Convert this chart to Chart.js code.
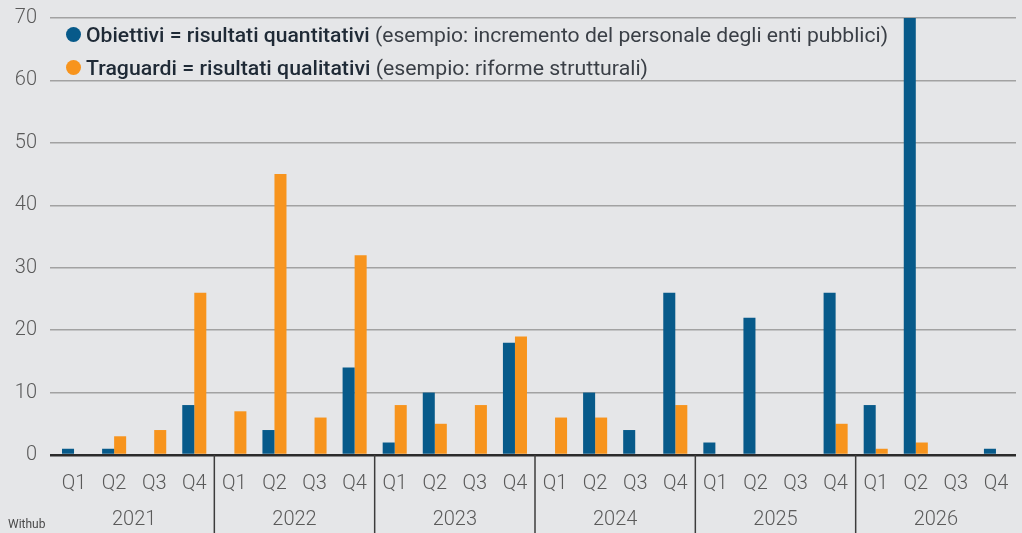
<!DOCTYPE html>
<html>
<head>
<meta charset="utf-8">
<script src="https://cdn.jsdelivr.net/npm/chart.js@4.4.1/dist/chart.umd.min.js"></script>
<style>
  html, body { margin: 0; padding: 0; background: #e5e6e8; }
  #wrap { position: relative; width: 1022px; height: 533px; overflow: hidden; background: #e5e6e8; }
  #chart { position: absolute; left: 0; top: 0; }
  #legend { position: absolute; left: 66px; top: 18px; font-family: 'Roboto', sans-serif; font-size: 21px; color: #2a3038; white-space: nowrap; }
  .row { display: flex; align-items: center; height: 33px; }
  .dot { width: 15px; height: 15px; border-radius: 50%; margin-right: 5px; flex: none; }
  .txt { display: inline-block; transform-origin: 0 50%; }
  .txt b { font-weight: 500; color: #1f2a36; }
  .txt span { font-weight: 400; color: #3a3f46; }
  #credit { position: absolute; left: 8px; top: 517px; font-family: 'Liberation Sans Narrow', 'Roboto', sans-serif; font-size: 12px; color: #4a4a4a; }
</style>
</head>
<body>
<div id="wrap">
  <canvas id="chart" width="1022" height="533"></canvas>
  <div id="legend">
    <div class="row"><div class="dot" style="background:#075a8a"></div><div class="txt" data-w="802"><b>Obiettivi = risultati quantitativi</b> <span>(esempio: incremento del personale degli enti pubblici)</span></div></div>
    <div class="row"><div class="dot" style="background:#f7941d"></div><div class="txt" data-w="562"><b>Traguardi = risultati qualitativi</b> <span>(esempio: riforme strutturali)</span></div></div>
  </div>
  <div id="credit">Withub</div>
</div>
<script>
// ---- data ----
const quarters = ['Q1','Q2','Q3','Q4','Q1','Q2','Q3','Q4','Q1','Q2','Q3','Q4','Q1','Q2','Q3','Q4','Q1','Q2','Q3','Q4','Q1','Q2','Q3','Q4'];
const years = ['2021','2022','2023','2024','2025','2026'];
const obiettivi = [1, 1, 0, 8,   0, 4, 0, 14,   2, 10, 0, 18,   0, 10, 4, 26,   2, 22, 0, 26,   8, 70, 0, 1];
const traguardi = [0, 3, 4, 26,  7, 45, 6, 32,  8, 5, 8, 19,    6, 6, 0, 8,     0, 0, 0, 5,     1, 2, 0, 0];
const yMin = 0, yMax = 70, yStep = 10;

// fit legend rows
document.querySelectorAll('.txt').forEach(el => {
  const target = +el.dataset.w;
  const w = el.getBoundingClientRect().width;
  el.style.transform = 'scaleX(' + (target / w) + ')';
});

const tickFont = { family: 'Roboto', size: 20, weight: 300 };
const tickColor = '#5a5a5a';

const bgPlugin = {
  id: 'bg',
  beforeDraw(chart) {
    const c = chart.ctx;
    c.save(); c.fillStyle = '#e5e6e8'; c.fillRect(0, 0, chart.width, chart.height); c.restore();
  }
};
const sepPlugin = {
  id: 'sep',
  afterDraw(chart) {
    const x = chart.scales.x, c = chart.ctx;
    c.save(); c.strokeStyle = '#3c3c3c'; c.lineWidth = 1.5;
    for (let i = 4; i < quarters.length; i += 4) {
      const px = (x.getPixelForValue(i - 1) + x.getPixelForValue(i)) / 2;
      c.beginPath(); c.moveTo(px, chart.chartArea.bottom); c.lineTo(px, chart.height); c.stroke();
    }
    c.restore();
  }
};

new Chart(document.getElementById('chart'), {
  type: 'bar',
  data: {
    labels: quarters,
    datasets: [
      { label: 'Obiettivi', data: obiettivi, backgroundColor: '#075a8a', xAxisID: 'x', categoryPercentage: 0.6, barPercentage: 1.0 },
      { label: 'Traguardi', data: traguardi, backgroundColor: '#f7941d', xAxisID: 'x', categoryPercentage: 0.6, barPercentage: 1.0 }
    ]
  },
  options: {
    responsive: false,
    animation: false,
    devicePixelRatio: 1,
    layout: { padding: { top: 0, right: 6, left: 0, bottom: 0 } },
    plugins: { legend: { display: false }, tooltip: { enabled: false } },
    scales: {
      x: {
        type: 'category', labels: quarters, offset: true, position: 'bottom',
        grid: { display: false }, border: { display: false },
        ticks: { color: tickColor, font: tickFont, padding: 9, maxRotation: 0, autoSkip: false },
        afterFit(s) { s.height = 40; }
      },
      year: {
        type: 'category', labels: years, offset: true, position: 'bottom',
        grid: { display: false }, border: { display: false },
        ticks: { color: tickColor, font: tickFont, padding: 5, maxRotation: 0, autoSkip: false },
        afterFit(s) { s.height = 38; }
      },
      y: {
        min: yMin, max: yMax,
        ticks: { stepSize: yStep, color: tickColor, font: tickFont, padding: 13 },
        grid: {
          color: ctx => ctx.tick && ctx.tick.value === 0 ? '#2b2b2b' : '#a2a2a2',
          lineWidth: ctx => ctx.tick && ctx.tick.value === 0 ? 2.5 : 1.5,
          tickLength: 4
        },
        border: { display: false },
        afterFit(s) { s.width = 54; s.paddingTop = 18; s.paddingBottom = 0; }
      }
    }
  },
  plugins: [bgPlugin, sepPlugin]
});
</script>
</body>
</html>
